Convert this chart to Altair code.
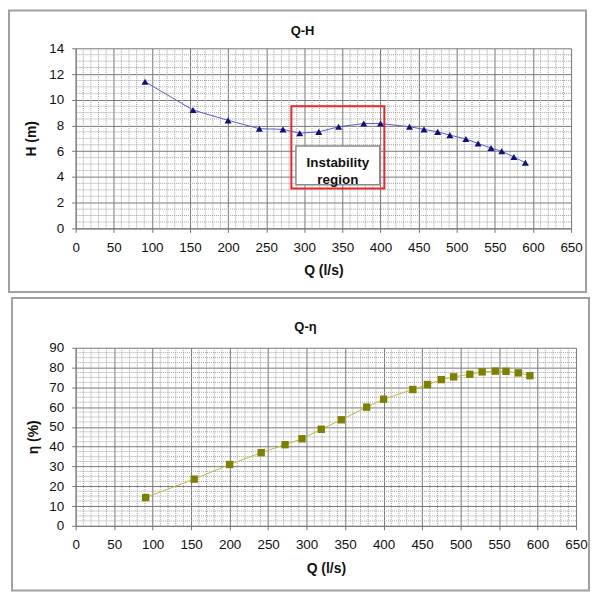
import altair as alt
import pandas as pd

# ---- data ----
Q = [91, 154, 200, 241, 272, 294, 319, 345, 378, 400, 438, 457, 475, 491, 512, 528, 545, 559, 575, 590]
H = [11.4, 9.2, 8.4, 7.75, 7.7, 7.4, 7.5, 7.9, 8.15, 8.15, 7.9, 7.7, 7.5, 7.25, 6.95, 6.6, 6.25, 6.0, 5.55, 5.1]
ETA = [14.3, 23.6, 31.0, 37.0, 41.0, 44.0, 48.8, 53.6, 60.0, 64.0, 68.9, 71.4, 73.9, 75.3, 76.6, 77.8, 78.2, 78.1, 77.3, 75.9]

Q_TICKS = list(range(0, 651, 50))
H_TICKS = list(range(0, 15, 2))
ETA_TICKS = list(range(0, 91, 10))
Q_MINOR = [q for q in range(0, 651, 10) if q % 50]
H_MINOR = [h / 2 for h in range(0, 29) if h % 4]
ETA_MINOR = [e * 2.5 for e in range(0, 37) if e % 4]

REGION_Q = [283, 405]
REGION_H = [3.1, 9.5]
LABEL_Q = [289, 399]
LABEL_H = [3.4, 6.4]
LABEL_TEXT = ["Instability", "region"]
LABEL_POS = [5.05]

FONT = "Liberation Sans"
MAJOR = "#777777"
MINOR = "#a0a0a0"
FRAME = "#a0a0a0"

df_qh = pd.DataFrame({"Q": Q, "H": H})
df_qe = pd.DataFrame({"Q": Q, "eta": ETA})

QSCALE = alt.Scale(domain=[0, 650], nice=False, zero=False)


def axis(values, title, tpad):
    return alt.Axis(values=values, title=title, grid=True, gridColor=MAJOR, gridWidth=1,
                    tickSize=4, tickColor=MAJOR, domainColor=MAJOR, labelPadding=8,
                    labelFlush=False, labelOverlap=False,
                    titlePadding=tpad, labelFontSize=13.5, titleFontSize=14,
                    titleFontWeight="bold", labelColor="#111", titleColor="#111",
                    labelFont=FONT, titleFont=FONT)


def xe(field):
    return alt.X(f"{field}:Q", scale=QSCALE, axis=axis(Q_TICKS, "Q (l/s)", 10))


def frame_layer(x0, x1, y0, y1):
    return alt.Chart(pd.DataFrame({"a": [0]})).mark_rect(
        filled=False, stroke=FRAME, strokeWidth=2
    ).encode(x=alt.value(x0), x2=alt.value(x1), y=alt.value(y0), y2=alt.value(y1))


def title_layer(text, x, y):
    return alt.Chart(pd.DataFrame({"t": [text]})).mark_text(
        font=FONT, fontSize=13, fontWeight="bold", color="#111"
    ).encode(text="t:N", x=alt.value(x), y=alt.value(y))


# ---------------- top chart: Q-H ----------------
yH = alt.Scale(domain=[0, 14], nice=False, zero=False)
W1, H1 = 498, 181


def ye_h(field):
    return alt.Y(f"{field}:Q", scale=yH, axis=axis(H_TICKS, "H (m)", 10))


top_minor_x = alt.Chart(pd.DataFrame({"Q": Q_MINOR})).mark_rule(
    color=MINOR, strokeDash=[1, 1], strokeWidth=1).encode(x=xe("Q"))
top_minor_y = alt.Chart(pd.DataFrame({"H": H_MINOR})).mark_rule(
    color=MINOR, strokeDash=[1, 1], strokeWidth=1).encode(y=ye_h("H"))

df_region = pd.DataFrame({"Q": [REGION_Q[0]], "q1": [REGION_Q[1]],
                          "H": [REGION_H[0]], "h1": [REGION_H[1]]})
region = alt.Chart(df_region).mark_rect(
    filled=False, stroke="#e8282b", strokeWidth=2).encode(
    x=xe("Q"), x2="q1:Q", y=ye_h("H"), y2="h1:Q")

df_label = pd.DataFrame({"Q": [LABEL_Q[0]], "q1": [LABEL_Q[1]],
                         "H": [LABEL_H[0]], "h1": [LABEL_H[1]]})
label_box = alt.Chart(df_label).mark_rect(
    fill="white", stroke="#8a8a8a", strokeWidth=1.5).encode(
    x=xe("Q"), x2="q1:Q", y=ye_h("H"), y2="h1:Q")

df_text = pd.DataFrame({"Q": [sum(LABEL_Q) / 2], "H": LABEL_POS, "t": ["\n".join(LABEL_TEXT)]})
label_text = alt.Chart(df_text).mark_text(
    font=FONT, fontSize=13.5, fontWeight="bold", color="#111", lineBreak="\n",
    lineHeight=17, baseline="middle").encode(x=xe("Q"), y=ye_h("H"), text="t:N")

qh_line = alt.Chart(df_qh).mark_line(color="#5c5cc8", strokeWidth=1).encode(
    x=xe("Q"), y=ye_h("H"))
qh_pts = alt.Chart(df_qh).mark_point(shape="triangle-up", filled=True, color="#10107a",
                                     opacity=1, size=50).encode(x=xe("Q"), y=ye_h("H"))

top = alt.layer(
    frame_layer(-67, 513, -38, 245),
    top_minor_x, top_minor_y,
    qh_line, region, label_box, label_text, qh_pts,
    title_layer("Q-H", 228, -17),
).properties(width=W1, height=H1)

# ---------------- bottom chart: Q-eta ----------------
yE = alt.Scale(domain=[0, 90], nice=False, zero=False)
W2, H2 = 503, 179


def ye_e(field):
    return alt.Y(f"{field}:Q", scale=yE, axis=axis(ETA_TICKS, "η (%)", 8))


bot_minor_x = alt.Chart(pd.DataFrame({"Q": Q_MINOR})).mark_rule(
    color=MINOR, strokeDash=[1, 1], strokeWidth=1).encode(x=xe("Q"))
bot_minor_y = alt.Chart(pd.DataFrame({"eta": ETA_MINOR})).mark_rule(
    color=MINOR, strokeDash=[1, 1], strokeWidth=1).encode(y=ye_e("eta"))

qe_line = alt.Chart(df_qe).mark_line(color="#b8b84a", strokeWidth=1).encode(
    x=xe("Q"), y=ye_e("eta"))
qe_pts = alt.Chart(df_qe).mark_point(shape="square", filled=True, color="#7f7f00",
                                     opacity=1, size=55).encode(x=xe("Q"), y=ye_e("eta"))

bottom = alt.layer(
    frame_layer(-64, 516, -50, 244),
    bot_minor_x, bot_minor_y,
    qe_line, qe_pts,
    title_layer("Q-η", 231, -21),
).properties(width=W2, height=H2)

chart = alt.vconcat(top, bottom, spacing=4).properties(
    padding=0, background="white"
).configure_view(stroke=None)

chart.save("out.html", embed_options={"renderer": "svg", "actions": False})
